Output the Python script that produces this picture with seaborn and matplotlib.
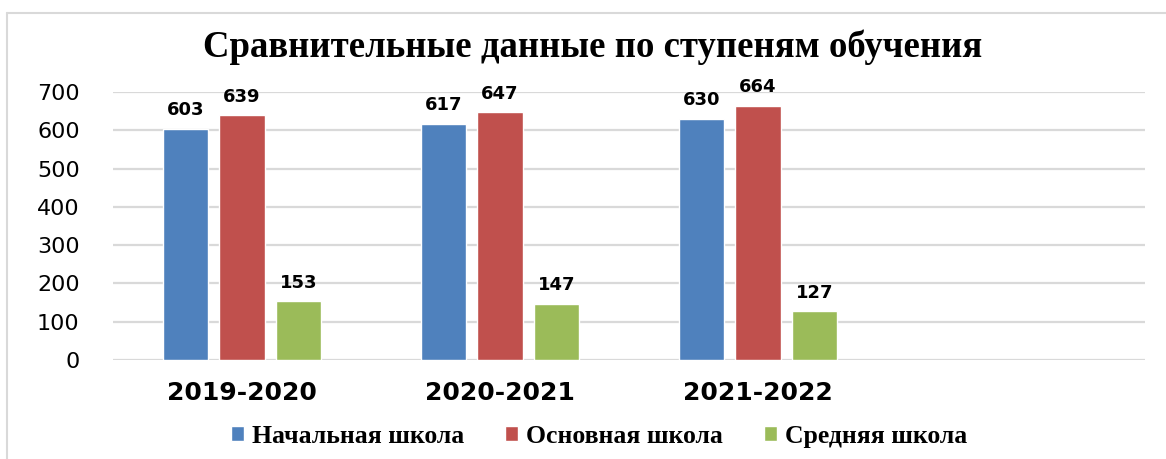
import pandas as pd
import matplotlib
matplotlib.use("Agg")
import matplotlib.pyplot as plt
from matplotlib.lines import Line2D
import seaborn as sns

# data
years = ["2019-2020", "2020-2021", "2021-2022"]
levels = ["Начальная школа", "Основная школа", "Средняя школа"]
primary = [603, 617, 630]
basic = [639, 647, 664]
secondary = [153, 147, 127]
colors = ["#4F81BD", "#C0504D", "#9BBB59"]
title = "Сравнительные данные по ступеням обучения"


def main():
    sns.set_style("white")
    plt.rcParams["font.family"] = ["DejaVu Sans"]
    plt.rcParams["text.color"] = "black"

    df = pd.DataFrame({
        "year": years * 3,
        "level": [levels[0]] * 3 + [levels[1]] * 3 + [levels[2]] * 3,
        "count": primary + basic + secondary,
    })

    fig = plt.figure(figsize=(11.66, 4.59), dpi=100)
    ax = fig.add_axes([0.0969, 0.2157, 0.8851, 0.5839])

    sns.barplot(data=df, x="year", y="count", hue="level", order=years,
                hue_order=levels, palette=colors, width=0.66, gap=0.2,
                saturation=1, errorbar=None, ax=ax, legend=True)

    # value labels above bars
    for cont in ax.containers:
        ax.bar_label(cont, padding=7, fontsize=13, fontweight="bold",
                     color="black", clip_on=False)

    # one empty slot on the right, like the original chart
    ax.set_xlim(-0.5, 3.5)
    ax.set_ylim(0, 700)
    ax.set_yticks(range(0, 701, 100))
    ax.grid(axis="y", color="#D9D9D9", linewidth=1.6)
    ax.set_axisbelow(True)
    sns.despine(ax=ax, left=True, bottom=True, top=True, right=True)
    ax.set_xlabel("")
    ax.set_ylabel("")
    ax.tick_params(axis="y", length=0, pad=24, labelsize=16, labelcolor="black")
    ax.tick_params(axis="x", length=0, pad=15, labelsize=18, labelcolor="black")
    for lbl in ax.get_xticklabels():
        lbl.set_fontweight("bold")

    fig.text(0.508, 0.876, title, ha="center", va="baseline", color="black",
             fontsize=26.5, fontweight="bold", family=["Liberation Serif", "DejaVu Serif"])

    handles, labels = ax.get_legend_handles_labels()
    ax.legend_.remove()
    leg = fig.legend(handles, labels, loc="center", bbox_to_anchor=(0.514, 0.05),
                     ncol=3, frameon=False, handlelength=0.5, handleheight=0.5,
                     handletextpad=0.32, columnspacing=1.6,
                     prop={"family": ["Liberation Serif", "DejaVu Serif"],
                           "weight": "bold", "size": 18.5})
    for t in leg.get_texts():
        t.set_color("black")

    # light frame lines at top and left, as in the screenshot
    fig.add_artist(Line2D([7 / 1166, 1], [1 - 13 / 459, 1 - 13 / 459],
                          transform=fig.transFigure, color="#D9D9D9", lw=1.5))
    fig.add_artist(Line2D([7 / 1166, 7 / 1166], [0, 1 - 13 / 459],
                          transform=fig.transFigure, color="#D9D9D9", lw=1.5))

    fig.savefig("out.png", dpi=100)
    plt.close(fig)


if __name__ == "__main__":
    main()
